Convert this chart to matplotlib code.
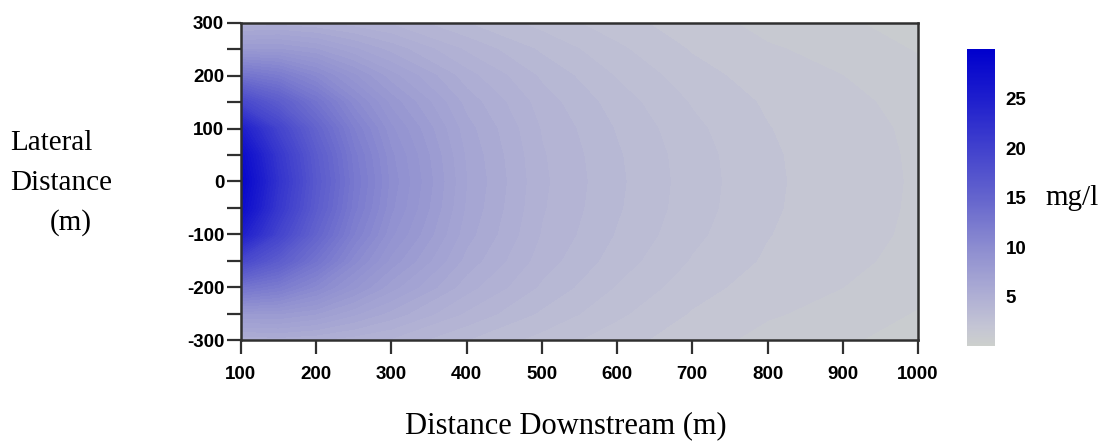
import matplotlib
matplotlib.use('Agg')
import matplotlib.pyplot as plt
import numpy as np
from matplotlib.colors import LinearSegmentedColormap, Normalize
from matplotlib.cm import ScalarMappable
from matplotlib.ticker import MultipleLocator

plt.rcParams['axes.unicode_minus'] = False

# concentration (mg/l), half plume y >= 0, mirrored below
x_dist = [100, 150, 200, 250, 300, 400, 500, 600, 700, 800, 900, 1000]
y_half = [0, 50, 100, 150, 200, 250, 300]
conc_half = [
    [29.0, 28.0, 25.0, 19.0, 13.0, 8.0, 5.0],      # 100
    [22.0, 21.3, 19.5, 16.0, 12.0, 8.0, 5.2],      # 150
    [16.5, 16.1, 15.0, 13.0, 10.3, 7.5, 5.0],      # 200
    [12.5, 12.2, 11.5, 10.2, 8.6, 6.6, 4.7],       # 250
    [9.8, 9.6, 9.1, 8.3, 7.2, 5.8, 4.4],           # 300
    [6.5, 6.4, 6.2, 5.8, 5.2, 4.4, 3.5],           # 400
    [4.6, 4.55, 4.45, 4.25, 3.9, 3.4, 2.8],        # 500
    [3.6, 3.56, 3.45, 3.25, 2.95, 2.6, 2.2],       # 600
    [2.75, 2.72, 2.62, 2.45, 2.2, 1.95, 1.7],      # 700
    [2.1, 2.08, 2.02, 1.92, 1.75, 1.55, 1.35],     # 800
    [1.7, 1.69, 1.66, 1.6, 1.5, 1.35, 1.05],       # 900
    [1.45, 1.44, 1.42, 1.37, 1.2, 0.95, 0.85],     # 1000
]

x_ticks = [100, 200, 300, 400, 500, 600, 700, 800, 900, 1000]
cbar_ticks = [5, 10, 15, 20, 25]

# colour scale stops (mg/l -> rgb)
cmap_values = [0, 2, 5, 10, 15, 20, 25, 30]
cmap_colors = ['#cdd0cd', '#c3c4d4', '#afafd4', '#8c8cd0', '#6464cd',
               '#4141cd', '#1e1ecd', '#0000cd']

# build full grid (mirror across y = 0)
half = np.array(conc_half)
y_full = np.array([-v for v in y_half[:0:-1]] + y_half)
conc = np.hstack([half[:, :0:-1], half]).T   # shape (ny, nx)

cmap = LinearSegmentedColormap.from_list(
    'plume', list(zip(np.array(cmap_values) / 30.0, cmap_colors)))
norm = Normalize(0, 30)

fig = plt.figure(figsize=(11.1, 4.41), dpi=100)
ax = fig.add_axes([0.217, 0.229, 0.610, 0.719])

cs = ax.contourf(x_dist, y_full, conc, levels=np.arange(0, 30.5, 0.5),
                 cmap=cmap, norm=norm)
cs.set_edgecolor('face')
cs.set_linewidth(0.4)

ax.set_xlim(100, 1000)
ax.set_ylim(-300, 300)
ax.set_xticks(x_ticks)
ax.yaxis.set_major_locator(MultipleLocator(100))
ax.yaxis.set_minor_locator(MultipleLocator(50))

for s in ax.spines.values():
    s.set_linewidth(1.8)
    s.set_color('#303030')
    s.set_zorder(5)

ax.tick_params(axis='both', which='both', direction='out', length=10,
               width=1.6, color='#303030')
ax.tick_params(axis='x', pad=9)
ax.tick_params(axis='y', pad=2)
for lab in ax.get_xticklabels() + ax.get_yticklabels():
    lab.set_fontfamily('Liberation Sans')
    lab.set_fontweight('bold')
    lab.set_fontsize(13.5)

# colour bar
cax = fig.add_axes([0.871, 0.215, 0.025, 0.674])
cb = fig.colorbar(ScalarMappable(norm=norm, cmap=cmap), cax=cax)
cb.outline.set_visible(False)
cb.set_ticks(cbar_ticks)
cax.tick_params(length=0, pad=8)
for lab in cax.get_yticklabels():
    lab.set_fontfamily('Liberation Sans')
    lab.set_fontweight('bold')
    lab.set_fontsize(13.5)

serif = 'Liberation Serif'
fig.text(0.51, 0.018, 'Distance Downstream (m)', fontfamily=serif,
         fontsize=22, ha='center', va='baseline')
fig.text(0.009, 0.675, 'Lateral', fontfamily=serif, fontsize=21,
         ha='left', va='center')
fig.text(0.009, 0.585, 'Distance', fontfamily=serif, fontsize=21,
         ha='left', va='center')
fig.text(0.045, 0.495, '(m)', fontfamily=serif, fontsize=21,
         ha='left', va='center')
fig.text(0.942, 0.55, 'mg/l', fontfamily=serif, fontsize=21,
         ha='left', va='center')

fig.savefig('out.png', dpi=100)
